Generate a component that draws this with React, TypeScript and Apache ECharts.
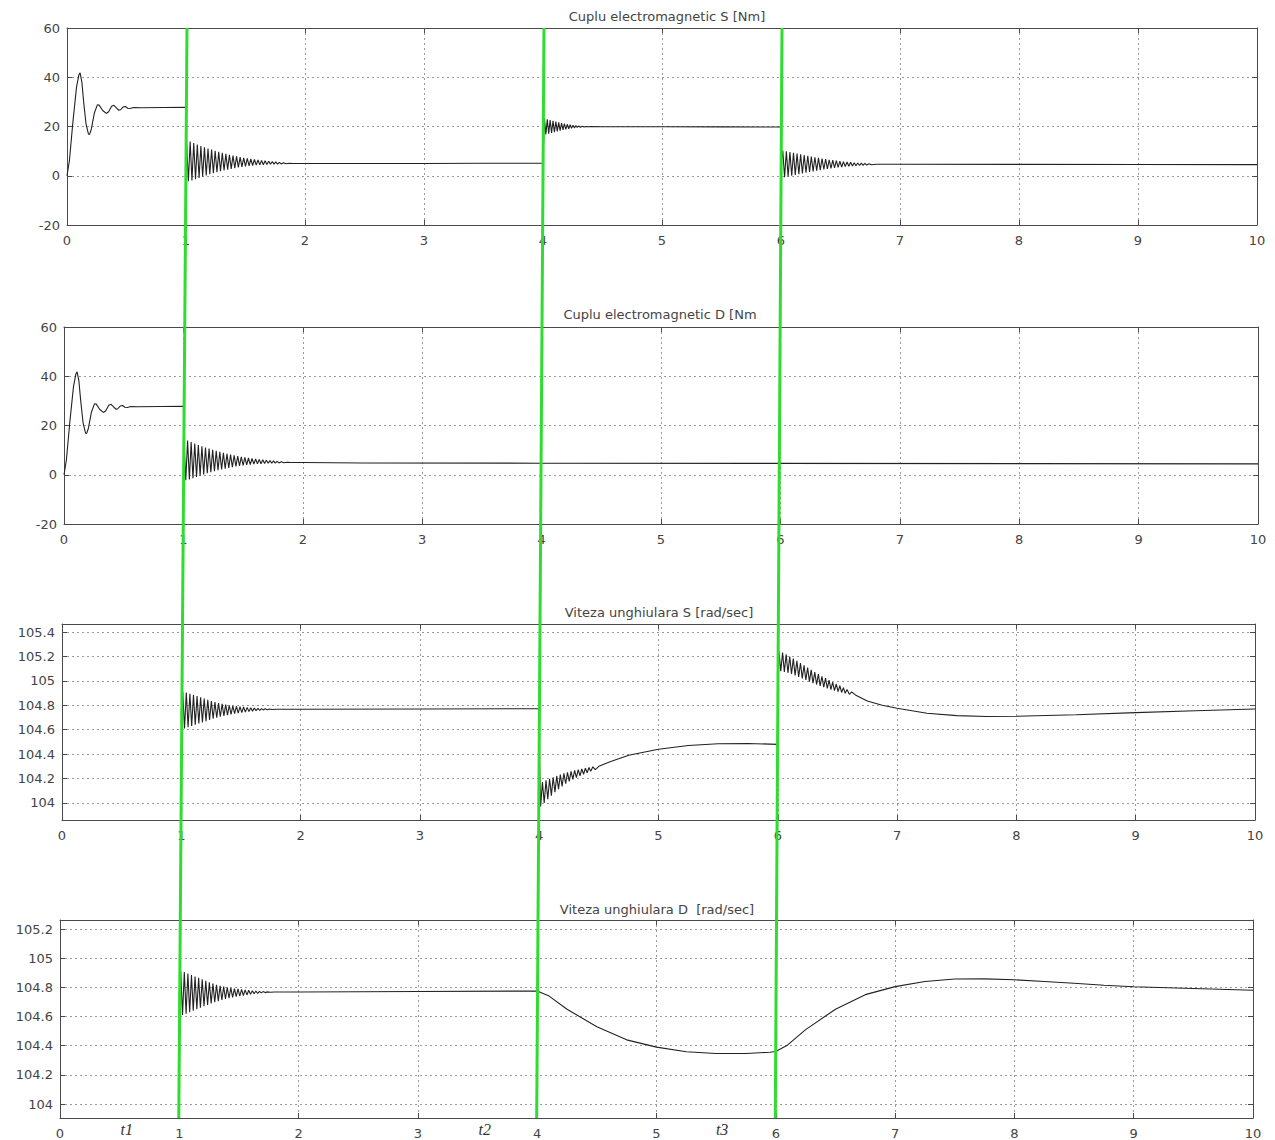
import React, { useEffect, useRef } from "react";
import * as echarts from "echarts";

type Pt = [number, number];

// ---------- tick labels / texts ----------
const xTickValues = [0, 1, 2, 3, 4, 5, 6, 7, 8, 9, 10];
const torqueTicks = [-20, 0, 20, 40, 60];
const speedTicksS = [104, 104.2, 104.4, 104.6, 104.8, 105, 105.2, 105.4];
const speedTicksD = [104, 104.2, 104.4, 104.6, 104.8, 105, 105.2];
const panelTitles = [
  "Cuplu electromagnetic S [Nm]",
  "Cuplu electromagnetic D [Nm",
  "Viteza unghiulara S [rad/sec]",
  "Viteza unghiulara D  [rad/sec]",
];
const eventTimes = [1, 4, 6];
const eventLabels = ["t1", "t2", "t3"];
const eventLabelTimes = [0.56, 3.56, 5.55];

// ---------- torque data ----------
const torqueStartup: Pt[] = [
  [0, 0], [0.02, 6], [0.05, 22], [0.08, 36], [0.1, 41], [0.11, 41.8], [0.125, 38],
  [0.14, 30], [0.16, 21], [0.18, 17], [0.19, 16.8], [0.205, 19], [0.23, 25.5],
  [0.255, 28.8], [0.27, 28.7], [0.3, 26.5], [0.33, 25.3], [0.35, 26], [0.375, 28.2],
  [0.395, 28.6], [0.415, 27.6], [0.435, 26.6], [0.45, 26.8], [0.47, 27.9], [0.49, 28.1],
  [0.51, 27.4], [0.53, 27.3], [0.56, 27.7], [0.62, 27.6], [1.0, 27.8],
];

const torqueStep1: Pt[] = [
  [1.004, 14.5], [1.02, -2.2], [1.035, 13.9], [1.05, -1.9], [1.065, 13.3], [1.08, -1.4],
  [1.095, 12.7], [1.11, -0.9], [1.125, 12.1], [1.14, -0.4], [1.155, 11.6], [1.17, 0.1],
  [1.185, 11.1], [1.2, 0.6], [1.215, 10.6], [1.23, 1.0], [1.245, 10.1], [1.26, 1.4],
  [1.275, 9.7], [1.29, 1.8], [1.305, 9.3], [1.32, 2.2], [1.335, 8.9], [1.35, 2.5],
  [1.365, 8.5], [1.38, 2.8], [1.395, 8.2], [1.41, 3.1], [1.425, 7.9], [1.44, 3.4],
  [1.455, 7.6], [1.47, 3.6], [1.485, 7.3], [1.5, 3.8], [1.515, 7.05], [1.53, 4.0],
  [1.545, 6.8], [1.56, 4.15], [1.575, 6.6], [1.59, 4.3], [1.605, 6.4], [1.62, 4.4],
  [1.635, 6.2], [1.65, 4.5], [1.665, 6.05], [1.68, 4.6], [1.695, 5.9], [1.71, 4.65],
  [1.725, 5.75], [1.74, 4.7], [1.755, 5.6], [1.77, 4.75], [1.785, 5.45], [1.8, 4.8],
  [1.82, 5.25], [1.84, 4.85], [1.87, 5.1], [1.9, 4.95], [2.0, 5.0],
];

const torqueSHold: Pt[] = [[2.5, 5.0], [3.0, 5.0], [3.5, 5.1], [4.0, 5.1]];

const torqueSStep4: Pt[] = [
  [4.004, 12.5], [4.012, 23.2], [4.024, 16.8], [4.036, 22.9], [4.048, 17.1], [4.06, 22.6],
  [4.072, 17.4], [4.084, 22.3], [4.096, 17.7], [4.108, 22.0], [4.12, 18.0], [4.132, 21.7],
  [4.144, 18.3], [4.156, 21.4], [4.168, 18.6], [4.18, 21.15], [4.192, 18.85], [4.204, 20.9],
  [4.216, 19.1], [4.228, 20.7], [4.24, 19.3], [4.252, 20.5], [4.264, 19.45], [4.276, 20.35],
  [4.288, 19.6], [4.3, 20.2], [4.315, 19.7], [4.33, 20.1], [4.345, 19.8], [4.36, 20.02],
  [4.38, 19.88], [4.4, 19.96], [4.5, 19.92], [5.0, 19.9], [5.5, 19.85], [6.0, 19.8],
];

const torqueSStep6: Pt[] = [
  [6.004, 6], [6.015, 10.2], [6.03, -0.6], [6.045, 9.9], [6.06, -0.3], [6.075, 9.6],
  [6.09, 0.0], [6.105, 9.3], [6.12, 0.3], [6.135, 9.0], [6.15, 0.6], [6.165, 8.7],
  [6.18, 0.9], [6.195, 8.4], [6.21, 1.2], [6.225, 8.1], [6.24, 1.5], [6.255, 7.8],
  [6.27, 1.8], [6.285, 7.5], [6.3, 2.05], [6.315, 7.25], [6.33, 2.3], [6.345, 7.0],
  [6.36, 2.55], [6.375, 6.75], [6.39, 2.8], [6.405, 6.5], [6.42, 3.0], [6.435, 6.3],
  [6.45, 3.2], [6.465, 6.1], [6.48, 3.4], [6.495, 5.9], [6.51, 3.55], [6.525, 5.75],
  [6.54, 3.7], [6.555, 5.6], [6.57, 3.85], [6.585, 5.45], [6.6, 3.95], [6.615, 5.3],
  [6.63, 4.05], [6.645, 5.2], [6.66, 4.15], [6.675, 5.1], [6.69, 4.25], [6.705, 5.0],
  [6.72, 4.35], [6.74, 4.9], [6.76, 4.45], [6.8, 4.7], [7.0, 4.65], [8.0, 4.6],
  [9.0, 4.55], [10.0, 4.5],
];

const torqueDHold: Pt[] = [[2.5, 4.8], [4.0, 4.7], [6.0, 4.6], [8.0, 4.5], [10.0, 4.4]];

// ---------- speed data ----------
const speedStep1: Pt[] = [
  [1.0, 104.77], [1.004, 104.47], [1.012, 104.91], [1.027, 104.61], [1.042, 104.905],
  [1.057, 104.62], [1.072, 104.895], [1.087, 104.63], [1.102, 104.885], [1.117, 104.64],
  [1.132, 104.875], [1.147, 104.65], [1.162, 104.865], [1.177, 104.66], [1.192, 104.855],
  [1.207, 104.67], [1.222, 104.845], [1.237, 104.68], [1.252, 104.835], [1.267, 104.69],
  [1.282, 104.826], [1.297, 104.698], [1.312, 104.818], [1.327, 104.706], [1.342, 104.811],
  [1.357, 104.713], [1.372, 104.805], [1.387, 104.72], [1.402, 104.8], [1.417, 104.726],
  [1.432, 104.796], [1.447, 104.731], [1.462, 104.792], [1.477, 104.736], [1.492, 104.789],
  [1.507, 104.74], [1.522, 104.786], [1.537, 104.744], [1.552, 104.783], [1.567, 104.748],
  [1.582, 104.78], [1.597, 104.752], [1.612, 104.777], [1.627, 104.756], [1.642, 104.775],
  [1.657, 104.759], [1.672, 104.773], [1.687, 104.762], [1.702, 104.771], [1.72, 104.764],
  [1.74, 104.769], [1.76, 104.766], [1.8, 104.768], [2.0, 104.768],
];

const speedSHold: Pt[] = [[3.0, 104.77], [4.0, 104.772]];

const speedSStep4: Pt[] = [
  [4.004, 104.3], [4.012, 103.97], [4.027, 104.17], [4.042, 104.0], [4.057, 104.185],
  [4.072, 104.03], [4.087, 104.198], [4.102, 104.06], [4.117, 104.21], [4.132, 104.088],
  [4.147, 104.221], [4.162, 104.113], [4.177, 104.232], [4.192, 104.136], [4.207, 104.242],
  [4.222, 104.157], [4.237, 104.251], [4.252, 104.176], [4.267, 104.259], [4.282, 104.193],
  [4.297, 104.266], [4.312, 104.208], [4.327, 104.272], [4.342, 104.222], [4.357, 104.278],
  [4.372, 104.235], [4.387, 104.284], [4.402, 104.247], [4.417, 104.29], [4.432, 104.259],
  [4.45, 104.296], [4.47, 104.272], [4.5, 104.3], [4.6, 104.34], [4.75, 104.39],
  [5.0, 104.44], [5.25, 104.47], [5.5, 104.485], [5.75, 104.487], [6.0, 104.48],
];

const speedSStep6: Pt[] = [
  [6.004, 105.0], [6.01, 105.24], [6.025, 105.08], [6.04, 105.232], [6.055, 105.074],
  [6.07, 105.218], [6.085, 105.066], [6.1, 105.2], [6.115, 105.056], [6.13, 105.183],
  [6.145, 105.045], [6.16, 105.165], [6.175, 105.033], [6.19, 105.146], [6.205, 105.02],
  [6.22, 105.127], [6.235, 105.007], [6.25, 105.108], [6.265, 104.994], [6.28, 105.09],
  [6.295, 104.982], [6.31, 105.072], [6.325, 104.97], [6.34, 105.055], [6.355, 104.959],
  [6.37, 105.038], [6.385, 104.948], [6.4, 105.022], [6.415, 104.938], [6.43, 105.006],
  [6.445, 104.929], [6.46, 104.99], [6.475, 104.92], [6.49, 104.975], [6.505, 104.912],
  [6.52, 104.96], [6.535, 104.905], [6.55, 104.945], [6.565, 104.898], [6.58, 104.93],
  [6.6, 104.89], [6.62, 104.91], [6.65, 104.885], [6.75, 104.835], [6.875, 104.8],
  [7.0, 104.775], [7.25, 104.735], [7.5, 104.715], [7.75, 104.708], [8.0, 104.71],
  [8.5, 104.722], [9.0, 104.74], [9.5, 104.755], [10.0, 104.77],
];

const speedDTail: Pt[] = [
  [3.0, 104.772], [4.0, 104.775], [4.1, 104.74], [4.25, 104.65], [4.5, 104.53],
  [4.75, 104.44], [5.0, 104.39], [5.25, 104.358], [5.5, 104.346], [5.75, 104.346],
  [5.95, 104.355], [6.0, 104.36], [6.1, 104.405], [6.25, 104.51], [6.5, 104.65],
  [6.75, 104.75], [7.0, 104.805], [7.25, 104.84], [7.5, 104.857], [7.75, 104.858],
  [8.0, 104.852], [8.25, 104.84], [8.5, 104.828], [8.75, 104.814], [9.0, 104.804],
  [9.5, 104.792], [10.0, 104.78],
];

const torqueS: Pt[] = [...torqueStartup, ...torqueStep1, ...torqueSHold, ...torqueSStep4, ...torqueSStep6];
const torqueD: Pt[] = [...torqueStartup, ...torqueStep1, ...torqueDHold];
const speedS: Pt[] = [...speedStep1, ...speedSHold, ...speedSStep4, ...speedSStep6];
const speedD: Pt[] = [...speedStep1, ...speedDTail];

const panelData = [torqueS, torqueD, speedS, speedD];
const panelRanges: [number, number][] = [[-20, 60], [-20, 60], [103.86, 105.466], [103.904, 105.262]];
const panelTicks = [torqueTicks, torqueTicks, speedTicksS, speedTicksD];

// ---------- layout ----------
const gridBoxes = [
  { left: 67, right: 18, top: 28, height: 197 },
  { left: 64, right: 17, top: 327, height: 197 },
  { left: 62, right: 20, top: 624, height: 196 },
  { left: 60, right: 22, top: 920, height: 198 },
];
const titlePos = [[667, 16], [660, 314], [659, 612], [657, 909]];

const AXIS_COLOR = "#4a4a4a";
const FONT = "DejaVu Sans";

function buildOption() {
  const xAxis: any[] = [];
  const yAxis: any[] = [];
  const series: any[] = [];
  panelData.forEach((data, i) => {
    const [yMin, yMax] = panelRanges[i];
    const ticks = panelTicks[i];
    const common = { type: "value", gridIndex: i, min: 0, max: 10, interval: 1 };
    xAxis.push({
      ...common,
      position: "bottom",
      axisLine: { show: true, onZero: false, lineStyle: { color: AXIS_COLOR, width: 1 } },
      axisTick: { show: true, inside: true, length: 5, lineStyle: { color: AXIS_COLOR } },
      axisLabel: {
        show: true, margin: 9, fontSize: 13, color: "#444", fontFamily: FONT,
        customValues: xTickValues,
      },
      splitLine: { show: true, lineStyle: { type: [2, 3], color: "#9a9a9a", width: 1 } },
    });
    xAxis.push({
      ...common,
      position: "top",
      axisLine: { show: true, onZero: false, lineStyle: { color: AXIS_COLOR, width: 1 } },
      axisTick: { show: true, inside: true, length: 5, lineStyle: { color: AXIS_COLOR } },
      axisLabel: { show: false },
      splitLine: { show: false },
    });
    const yCommon = {
      type: "value", gridIndex: i, min: yMin, max: yMax,
    };
    yAxis.push({
      ...yCommon,
      position: "left",
      axisLine: { show: true, onZero: false, lineStyle: { color: AXIS_COLOR, width: 1 } },
      axisTick: { show: true, inside: true, length: 5, lineStyle: { color: AXIS_COLOR }, customValues: ticks },
      axisLabel: {
        show: true, margin: 7, fontSize: 13, color: "#444", fontFamily: FONT,
        customValues: ticks,
        formatter: (v: number) => String(Math.round(v * 10) / 10),
      },
      splitLine: { show: true, lineStyle: { type: [2, 3], color: "#9a9a9a", width: 1 } },
    });
    yAxis.push({
      ...yCommon,
      position: "right",
      axisLine: { show: true, onZero: false, lineStyle: { color: AXIS_COLOR, width: 1 } },
      axisTick: { show: true, inside: true, length: 5, lineStyle: { color: AXIS_COLOR }, customValues: ticks },
      axisLabel: { show: false, customValues: ticks },
      splitLine: { show: false },
    });
    series.push({
      type: "line",
      xAxisIndex: 2 * i,
      yAxisIndex: 2 * i,
      data,
      showSymbol: false,
      symbol: "none",
      lineStyle: { color: "#222222", width: 1.1 },
      z: 3,
    });
  });
  return {
    animation: false,
    backgroundColor: "#ffffff",
    grid: gridBoxes.map((g) => ({ ...g, containLabel: false })),
    xAxis,
    yAxis,
    series,
  };
}

export default function App() {
  const ref = useRef<HTMLDivElement>(null);
  useEffect(() => {
    if (!ref.current) return;
    const chart = echarts.init(ref.current, undefined, { renderer: "svg" });
    chart.setOption(buildOption());

    const graphic: any[] = [];
    panelTitles.forEach((t, i) => {
      graphic.push({
        type: "text",
        x: titlePos[i][0],
        y: titlePos[i][1],
        style: {
          text: t, fontSize: 13, fontFamily: FONT, fill: "#444",
          textAlign: "center", textVerticalAlign: "middle",
        },
        z: 50,
      });
    });
    const topY = gridBoxes[0].top;
    const bottomY = gridBoxes[3].top + gridBoxes[3].height;
    eventTimes.forEach((t) => {
      const pTop = chart.convertToPixel({ xAxisIndex: 0, yAxisIndex: 0 }, [t, 60]) as number[];
      const pBot = chart.convertToPixel({ xAxisIndex: 6, yAxisIndex: 6 }, [t, 104]) as number[];
      graphic.push({
        type: "line",
        shape: { x1: pTop[0] + 1, y1: topY, x2: pBot[0] - 0.5, y2: bottomY },
        style: { stroke: "#2fdc2f", lineWidth: 3 },
        z: 100,
      });
    });
    eventLabels.forEach((lab, k) => {
      const p = chart.convertToPixel({ xAxisIndex: 6, yAxisIndex: 6 }, [eventLabelTimes[k], 104]) as number[];
      graphic.push({
        type: "text",
        x: p[0],
        y: bottomY + 11,
        style: {
          text: lab, fontSize: 16, fontStyle: "italic", fontFamily: "Liberation Serif",
          fill: "#333", textAlign: "center", textVerticalAlign: "middle",
        },
        z: 100,
      });
    });
    chart.setOption({ graphic });
    return () => chart.dispose();
  }, []);
  return (
    <div
      ref={ref}
      style={{ position: "absolute", left: 0, top: 0, width: 1275, height: 1140 }}
    />
  );
}
